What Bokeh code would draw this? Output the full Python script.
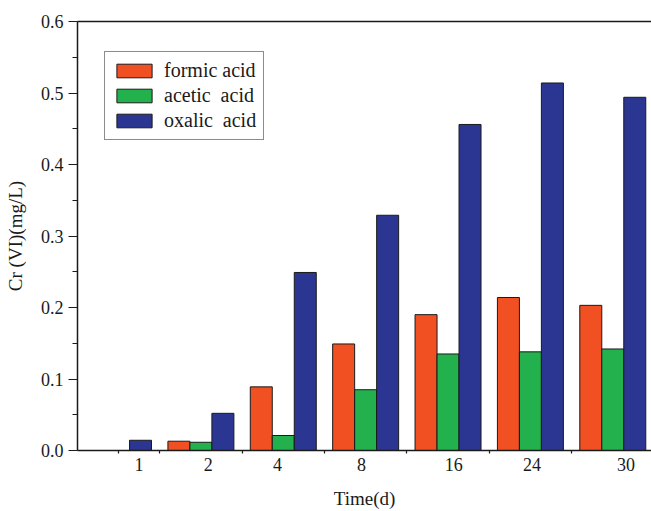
from bokeh.plotting import figure
from bokeh.models import (FixedTicker, Range1d, LinearAxis, CustomJSTickFormatter,
                          Legend, NumeralTickFormatter, ColumnDataSource)
from bokeh.transform import dodge
from bokeh.embed import file_html
from bokeh.resources import INLINE

# ---- data ----
time_labels = ["1", "2", "4", "8", "16", "24", "30"]
group_index = [1, 2, 3, 4, 5, 6, 7]
formic = [0.0, 0.013, 0.089, 0.149, 0.190, 0.214, 0.203]
acetic = [0.0, 0.0115, 0.021, 0.085, 0.135, 0.138, 0.142]
oxalic = [0.0143, 0.052, 0.249, 0.329, 0.456, 0.514, 0.494]
series_names = ["formic acid", "acetic  acid", "oxalic  acid"]
# tick-label positions as they appear in the original figure
label_pos = [1.25, 2.09, 2.93, 3.95, 5.07, 6.02, 7.16]
minor_pos = [1.0, 1.5, 2.5, 3.5, 4.5, 5.5, 6.5]
y_ticks = [0.0, 0.1, 0.2, 0.3, 0.4, 0.5, 0.6]
y_minor = [0.05, 0.15, 0.25, 0.35, 0.45, 0.55]

colors = ["#F15023", "#22B14C", "#2B3693"]
FONT = "Liberation Serif"
INK = "#1a1a1a"

src = ColumnDataSource(dict(x=group_index, formic=formic, acetic=acetic, oxalic=oxalic))

p = figure(width=651, height=511, output_backend="svg", toolbar_location=None,
           x_range=Range1d(0.502, 7.47), y_range=Range1d(0, 0.6),
           min_border_left=77, min_border_right=0, min_border_top=21,
           min_border_bottom=61)
p.outline_line_color = None
p.xgrid.visible = False
p.ygrid.visible = False
p.background_fill_color = "white"
p.border_fill_color = "white"

bw = 0.267
r1 = p.vbar(x=dodge("x", -bw, range=p.x_range), top="formic", width=bw, source=src,
            fill_color=colors[0], line_color=INK, line_width=1)
r2 = p.vbar(x=dodge("x", 0, range=p.x_range), top="acetic", width=bw, source=src,
            fill_color=colors[1], line_color=INK, line_width=1)
r3 = p.vbar(x=dodge("x", bw, range=p.x_range), top="oxalic", width=bw, source=src,
            fill_color=colors[2], line_color=INK, line_width=1)

# x axis (the bottom one)
xa = p.below[0]
xa.ticker = FixedTicker(ticks=label_pos, minor_ticks=minor_pos)
xa.major_label_overrides = {lp: t for lp, t in zip(label_pos, time_labels)}
xa.major_tick_out = 0
xa.major_tick_in = 0
xa.minor_tick_out = 3
xa.minor_tick_in = 0
xa.axis_label = "Time(d)"
xa.axis_label_standoff = 14
xa.major_label_standoff = 4

# y axis
ya = p.left[0]
ya.ticker = FixedTicker(ticks=y_ticks, minor_ticks=y_minor)
ya.formatter = NumeralTickFormatter(format="0.0")
ya.major_tick_out = 9
ya.major_tick_in = 0
ya.minor_tick_out = 5
ya.minor_tick_in = 0
ya.axis_label = "Cr (VI)(mg/L)"
ya.axis_label_standoff = 12
ya.major_label_standoff = 5

for ax in (xa, ya):
    ax.axis_line_color = INK
    ax.axis_line_width = 1.5
    ax.major_tick_line_color = INK
    ax.minor_tick_line_color = INK
    ax.major_tick_line_width = 1.2
    ax.minor_tick_line_width = 1.2
    ax.major_label_text_font = FONT
    ax.major_label_text_font_size = "18px"
    ax.major_label_text_color = INK
    ax.axis_label_text_font = FONT
    ax.axis_label_text_font_size = "19px"
    ax.axis_label_text_font_style = "normal"
    ax.axis_label_text_color = INK

# top frame line: an axis above whose panel keeps a few pixels of height
# (invisible outward ticks, empty labels) so that its rule gets drawn
top = LinearAxis(ticker=FixedTicker(ticks=[1.0, 2.0], minor_ticks=[]),
                 formatter=CustomJSTickFormatter(code="return ''"),
                 major_tick_out=6, major_tick_in=0, major_tick_line_color=None,
                 minor_tick_out=0, minor_tick_in=0, axis_line_color=INK,
                 axis_line_width=1.5, major_label_text_font_size="2px",
                 major_label_standoff=6)
p.add_layout(top, "above")

legend = Legend(items=[(series_names[0], [r1]), (series_names[1], [r2]), (series_names[2], [r3])],
                location=(27, 310), orientation="vertical")
legend.label_text_font = FONT
legend.label_text_font_size = "20px"
legend.label_text_color = INK
legend.glyph_width = 44
legend.glyph_height = 17
legend.label_height = 19
legend.label_standoff = 8
legend.spacing = 2
legend.padding = 7
legend.margin = 0
legend.border_line_color = INK
legend.border_line_width = 1
legend.background_fill_color = "white"
legend.background_fill_alpha = 1
p.add_layout(legend, "center")

open("out.html", "w").write(file_html(p, INLINE))
